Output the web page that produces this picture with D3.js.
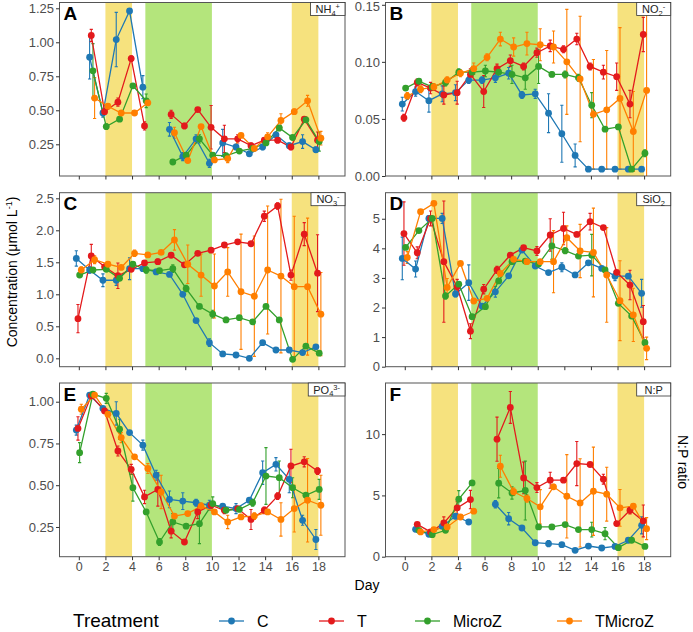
<!DOCTYPE html>
<html><head><meta charset="utf-8">
<script src="https://cdn.jsdelivr.net/npm/d3@7"></script>
<style>body{margin:0;background:#fff}svg{display:block;font-family:"Liberation Sans",Arial,sans-serif}</style>
</head><body><svg id="chart" width="693" height="632"></svg>
<script>
// ---------------- DATA ----------------
const days = [0,1,2,3,4,5,6,7,8,9,10,11,12,13,14,15,16,17,18];
const xTicks = [0,2,4,6,8,10,12,14,16,18];
const treatments = ["C","T","MicroZ","TMicroZ"];
const colors = ["#1F78B4","#E31A1C","#33A02C","#FF7F00"];
const yellowBands = [[2,4],[16,18]];
const greenBands = [[5,10]];

// A: NH4+
const nh4_C  = [null,0.89,0.48,1.02,1.23,0.67,null,0.36,0.16,0.29,0.11,0.26,0.23,0.18,0.23,0.32,0.24,0.27,0.21];
const nh4_C_se = [null,0.16,0.03,0.2,0.01,0.085,null,0.05,0.03,0.03,0.03,0.1,0.02,0.02,0.02,0.02,0.02,0.05,0.02];
const nh4_T  = [null,1.05,0.49,0.56,0.88,0.385,null,0.47,0.385,0.505,0.375,0.29,0.29,0.24,0.28,0.28,0.23,0.435,0.28];
const nh4_T_se = [null,0.045,0.02,0.03,0.02,0.03,null,0.03,0.02,0.01,0.16,0.1,0.03,0.02,0.02,0.02,0.02,0.01,0.06];
const nh4_M  = [null,0.79,0.38,0.435,0.68,0.57,null,0.12,0.17,0.29,0.17,0.165,0.20,0.22,0.26,0.37,0.30,0.43,0.27];
const nh4_M_se = [null,0.2,0.02,0.01,0.01,0.05,null,0.01,0.02,0.03,0.02,0.02,0.01,0.01,0.01,0.02,0.01,0.02,0.07];
const nh4_TM = [null,0.59,0.53,0.48,0.48,0.555,null,0.335,0.13,0.38,0.135,0.145,0.315,0.22,0.305,0.425,0.49,0.57,0.295];
const nh4_TM_se = [null,0.15,0.02,0.01,0.01,0.02,null,0.04,0.01,0.01,0.01,0.03,0.01,0.01,0.03,0.05,0.02,0.04,0.05];

// B: NO2-
const no2_C  = [0.063,0.074,0.066,0.072,0.073,0.084,0.084,0.086,0.090,0.071,0.072,0.055,0.037,0.018,0.006,0.006,0.006,0.006,0.006];
const no2_C_se = [0.006,0.004,0.01,0.007,0.007,0.003,0.003,0.004,0.005,0.003,0.004,0.017,0.025,0.01,0.001,0.001,0.001,0.001,0.001];
const no2_T  = [0.051,0.082,0.077,0.071,0.073,0.089,0.074,0.094,0.101,0.096,0.108,0.114,0.111,0.120,0.096,0.091,0.087,0.063,0.124];
const no2_T_se = [0.003,0.003,0.005,0.008,0.01,0.005,0.014,0.004,0.005,0.003,0.004,0.005,0.003,0.005,0.003,0.006,0.012,0.012,0.015];
const no2_M  = [0.077,0.083,0.078,0.082,0.091,0.091,0.092,0.091,0.089,0.086,0.096,0.089,0.089,0.086,0.062,0.041,0.043,0.006,0.020];
const no2_M_se = [0.002,0.002,0.003,0.003,0.003,0.004,0.005,0.004,0.008,0.01,0.015,0.002,0.003,0.003,0.011,0.002,0.002,0.002,0.003];
const no2_TM = [0.070,0.076,0.078,0.084,0.090,0.094,0.104,0.120,0.113,0.116,0.115,0.113,0.100,0.085,0.054,0.058,0.068,0.039,0.075];
const no2_TM_se = [0.003,0.003,0.003,0.003,0.003,0.005,0.003,0.006,0.008,0.01,0.014,0.014,0.046,0.055,0.048,0.052,0.062,0.035,0.08];

// C: NO3-
const no3_C  = [1.56,1.38,1.22,1.22,1.40,1.40,1.35,1.31,1.00,0.59,0.245,0.068,0.052,0.0,0.245,0.13,0.13,0.09,0.18];
const no3_C_se = [0.12,0.05,0.1,0.08,0.17,0.03,0.04,0.03,0.02,0.02,0.06,0.02,0.02,0.02,0.02,0.02,0.02,0.03,0.02];
const no3_T  = [0.62,1.60,1.43,1.29,1.39,1.49,1.51,1.61,1.46,1.64,1.69,1.77,1.82,1.79,2.22,2.38,1.30,1.94,1.33];
const no3_T_se = [0.22,0.18,0.02,0.2,0.02,0.02,0.04,0.02,0.02,0.02,0.02,0.02,0.02,0.02,0.08,0.05,0.08,0.18,0.6];
const no3_M  = [1.30,1.38,1.39,1.25,1.47,1.38,1.37,1.40,1.09,0.81,0.69,0.60,0.635,0.57,0.81,0.60,-0.016,0.19,0.08];
const no3_M_se = [0.02,0.02,0.02,0.02,0.02,0.05,0.02,0.06,0.05,0.02,0.06,0.04,0.02,0.03,0.02,0.02,0.02,0.03,0.02];
const no3_TM = [1.38,1.54,1.47,1.42,1.64,1.615,1.655,1.85,1.47,1.30,1.13,1.35,1.04,0.97,1.38,1.285,1.12,1.12,0.69];
const no3_TM_se = [0.05,0.06,0.04,0.03,0.05,0.02,0.02,0.16,0.3,0.33,0.5,0.38,0.9,0.94,1.0,1.2,1.1,1.07,0.65];

// D: SiO2
const si_C  = [3.66,3.30,5.01,5.01,2.46,2.84,2.05,2.53,3.07,3.94,3.40,3.18,3.36,3.10,3.51,3.32,3.06,3.06,2.48];
const si_C_se = [0.72,0.27,0.1,0.17,0.1,0.6,0.05,0.18,0.05,0.05,0.05,0.05,0.15,0.05,0.05,0.05,0.15,0.05,0.47];
const si_T  = [4.50,3.85,5.01,3.55,2.70,1.20,2.62,3.27,3.77,4.02,3.91,4.45,4.67,4.47,4.90,4.70,3.19,2.76,1.52];
const si_T_se = [1.07,0.2,0.25,2.05,0.25,0.25,0.16,0.12,0.05,0.05,0.15,0.55,0.55,0.05,0.28,0.05,0.05,0.5,0.55];
const si_M  = [4.03,4.60,5.01,2.39,2.79,1.69,2.03,2.90,3.55,3.57,3.47,4.08,3.92,3.74,3.77,3.27,2.14,1.71,0.81];
const si_M_se = [0.05,0.05,0.05,0.1,0.05,0.05,0.05,0.05,0.05,0.05,0.05,0.45,0.1,0.05,0.7,0.05,0.05,0.05,0.1];
const si_TM = [3.69,5.24,5.52,2.68,3.49,2.22,2.31,3.15,3.63,3.55,3.55,3.55,4.36,3.91,3.86,3.10,2.23,1.75,0.62];
const si_TM_se = [0.2,0.05,0.05,0.3,0.05,0.05,0.05,0.05,0.05,0.05,0.05,1.05,0.4,0.9,1.5,1.6,1.35,0.9,0.38];

// E: PO4 3-
const po4_C  = [0.83,1.04,0.96,0.93,0.815,0.74,0.56,0.415,0.405,0.395,0.38,0.375,0.36,0.41,0.575,0.625,0.535,0.29,0.175];
const po4_C_se = [0.03,0.01,0.01,0.07,0.01,0.03,0.03,0.05,0.05,0.02,0.03,0.01,0.03,0.01,0.07,0.04,0.08,0.03,0.06];
const po4_T  = [0.84,1.035,0.945,0.705,0.595,0.43,0.475,0.225,0.16,0.34,0.38,0.35,0.36,0.295,0.35,0.435,0.615,0.64,0.585];
const po4_T_se = [0.07,0.01,0.01,0.03,0.03,0.04,0.1,0.04,0.01,0.04,0.02,0.02,0.01,0.06,0.02,0.02,0.1,0.03,0.02];
const po4_M  = [0.695,1.045,1.02,0.835,0.485,0.34,0.16,0.28,0.255,0.27,0.39,0.35,0.355,0.395,0.555,0.545,0.485,0.44,0.475];
const po4_M_se = [0.06,0.01,0.03,0.06,0.08,0.01,0.02,0.05,0.01,0.12,0.04,0.01,0.01,0.02,0.17,0.1,0.06,0.01,0.06];
const po4_TM = [0.955,1.04,0.925,0.785,0.67,0.6,0.46,0.315,0.33,0.375,0.34,0.28,0.31,0.315,0.34,0.295,0.36,0.41,0.38];
const po4_TM_se = [0.03,0.01,0.01,0.03,0.01,0.03,0.1,0.01,0.01,0.02,0.01,0.04,0.01,0.02,0.01,0.1,0.14,0.25,0.18];

// F: N:P
const np_C  = [null,2.23,1.83,2.48,3.30,2.83,null,4.28,3.10,2.34,1.14,1.06,0.98,0.52,0.87,0.71,0.84,1.34,2.56];
const np_C_se = [null,0.1,0.1,0.1,0.2,0.1,null,0.3,0.5,0.1,0.1,0.25,0.1,0.1,0.1,0.1,0.1,0.1,0.7];
const np_T  = [null,2.64,2.02,2.75,3.98,4.66,null,9.59,12.18,6.43,5.64,6.24,6.24,7.60,7.52,6.32,2.70,3.79,2.92];
const np_T_se = [null,0.1,0.1,0.5,0.5,0.75,null,1.8,1.3,1.3,0.4,0.65,0.1,1.8,0.1,0.4,0.1,0.3,1.3];
const np_M  = [null,2.15,1.80,2.15,4.69,6.02,null,6.0,5.2,5.4,2.43,2.43,2.62,2.21,2.21,1.88,0.74,1.34,0.84];
const np_M_se = [null,0.1,0.1,0.1,0.7,0.1,null,1.2,0.5,2.4,0.1,0.1,0.1,0.1,0.6,0.5,0.1,0.1,0.1];
const np_TM = [null,2.02,2.21,2.43,3.24,3.71,null,7.38,5.3,4.75,4.07,5.7,4.93,4.39,5.34,5.10,3.98,4.12,2.29];
const np_TM_se = [null,0.1,0.1,0.1,0.1,0.1,null,0.9,0.3,0.3,1.4,0.2,3.4,3.6,3.6,2.2,1.5,0.2,0.9];

const ticksA = [0.25,0.50,0.75,1.00,1.25];
const ticksB = [0.00,0.05,0.10,0.15];
const ticksC = [0.0,0.5,1.0,1.5,2.0,2.5];
const ticksD = [0,1,2,3,4,5];
const ticksE = [0.25,0.50,0.75,1.00];
const ticksF = [0,5,10];

// ---------------- LAYOUT ----------------
const svg = d3.select("#chart");
svg.append("rect").attr("width",693).attr("height",632).attr("fill","#fff");

const cols = [[59.5,345],[385.5,670.7]];
const rows = [[2.5,176],[192.7,366.7],[383,556.7]];
const xDomain = [-1.45, 20.0];
const dodge = [-0.1875,-0.0625,0.0625,0.1875];

const panels = [
  {letter:"A", chem:[["NH",0],["4",1],["+",-1]], col:0,row:0, dom:[0.0169,1.2926], ticks:ticksA, fmt:d3.format(".2f"),
   series:[[nh4_C,nh4_C_se],[nh4_T,nh4_T_se],[nh4_M,nh4_M_se],[nh4_TM,nh4_TM_se]]},
  {letter:"B", chem:[["NO",0],["2",1],["-",-1]], col:1,row:0, dom:[0,0.152], ticks:ticksB, fmt:d3.format(".2f"),
   series:[[no2_C,no2_C_se],[no2_T,no2_T_se],[no2_M,no2_M_se],[no2_TM,no2_TM_se]]},
  {letter:"C", chem:[["NO",0],["3",1],["-",-1]], col:0,row:1, dom:[-0.131,2.5875], ticks:ticksC, fmt:d3.format(".1f"),
   series:[[no3_C,no3_C_se],[no3_T,no3_T_se],[no3_M,no3_M_se],[no3_TM,no3_TM_se]]},
  {letter:"D", chem:[["SiO",0],["2",1]], col:1,row:1, dom:[0,5.88], ticks:ticksD, fmt:d3.format("d"),
   series:[[si_C,si_C_se],[si_T,si_T_se],[si_M,si_M_se],[si_TM,si_TM_se]]},
  {letter:"E", chem:[["PO",0],["4",1],["3-",-1]], col:0,row:2, dom:[0.072,1.112], ticks:ticksE, fmt:d3.format(".2f"),
   series:[[po4_C,po4_C_se],[po4_T,po4_T_se],[po4_M,po4_M_se],[po4_TM,po4_TM_se]]},
  {letter:"F", chem:[["N:P",0]], col:1,row:2, dom:[0,14.17], ticks:ticksF, fmt:d3.format("d"),
   series:[[np_C,np_C_se],[np_T,np_T_se],[np_M,np_M_se],[np_TM,np_TM_se]]}
];

const tickCol = "#333", labCol = "#4D4D4D";

panels.forEach((p,pi) => {
  const [x0,x1] = cols[p.col], [y0,y1] = rows[p.row];
  const x = d3.scaleLinear().domain(xDomain).range([x0,x1]);
  const y = d3.scaleLinear().domain(p.dom).range([y1,y0]);
  const g = svg.append("g");
  const cid = "clip"+pi;
  svg.append("clipPath").attr("id",cid).append("rect").attr("x",x0).attr("y",y0).attr("width",x1-x0).attr("height",y1-y0);
  const pg = g.append("g").attr("clip-path",`url(#${cid})`);

  yellowBands.forEach(b => pg.append("rect").attr("x",x(b[0])).attr("width",x(b[1])-x(b[0]))
     .attr("y",y0).attr("height",y1-y0).attr("fill","#F6E27E"));
  greenBands.forEach(b => pg.append("rect").attr("x",x(b[0])).attr("width",x(b[1])-x(b[0]))
     .attr("y",y0).attr("height",y1-y0).attr("fill","#B4E57C"));

  const seriesData = p.series.map((s,si) => days.map((d,i) => ({d:d+dodge[si], v:s[0][i], e:s[1][i]})));
  // error bars
  seriesData.forEach((sd,si) => {
    const cw = 0.12;
    sd.filter(o => o.v!=null).forEach(o => {
      const path = d3.path();
      path.moveTo(x(o.d), y(o.v+o.e)); path.lineTo(x(o.d), y(o.v-o.e));
      path.moveTo(x(o.d-cw), y(o.v+o.e)); path.lineTo(x(o.d+cw), y(o.v+o.e));
      path.moveTo(x(o.d-cw), y(o.v-o.e)); path.lineTo(x(o.d+cw), y(o.v-o.e));
      pg.append("path").attr("d",path.toString()).attr("stroke",colors[si]).attr("stroke-width",1.1).attr("fill","none");
    });
  });
  // lines
  seriesData.forEach((sd,si) => {
    const line = d3.line().defined(o => o.v!=null).x(o => x(o.d)).y(o => y(o.v));
    pg.append("path").attr("d",line(sd)).attr("stroke",colors[si]).attr("stroke-width",1.3).attr("fill","none");
  });
  // points
  seriesData.forEach((sd,si) => {
    pg.selectAll(null).data(sd.filter(o => o.v!=null)).enter().append("circle")
      .attr("cx",o => x(o.d)).attr("cy",o => y(o.v)).attr("r",3.4).attr("fill",colors[si]);
  });

  // border
  g.append("rect").attr("x",x0).attr("y",y0).attr("width",x1-x0).attr("height",y1-y0)
    .attr("fill","none").attr("stroke","#555").attr("stroke-width",1);

  // y axis
  const ya = d3.axisLeft(y).tickValues(p.ticks).tickFormat(p.fmt).tickSize(3.5).tickPadding(2);
  const yg = g.append("g").attr("transform",`translate(${x0},0)`).call(ya);
  yg.select(".domain").remove();
  yg.selectAll("line").attr("stroke",tickCol);
  yg.selectAll("text").attr("fill",labCol).style("font-size","13px").style("font-family","Liberation Sans, Arial, sans-serif");
  // keep the top-most label inside the picture
  yg.selectAll(".tick").each(function(v){ if (y(v) < 6) d3.select(this).select("text").attr("y", 6 - y(v)); });
  // x axis
  const xa = d3.axisBottom(x).tickValues(xTicks).tickSize(3.5).tickPadding(2).tickFormat(p.row===2 ? d3.format("d") : () => "");
  const xg = g.append("g").attr("transform",`translate(0,${y1})`).call(xa);
  xg.select(".domain").remove();
  xg.selectAll("line").attr("stroke",tickCol);
  xg.selectAll("text").attr("fill",labCol).style("font-size","12.5px").style("font-family","Liberation Sans, Arial, sans-serif");

  // panel letter
  g.append("text").attr("x",x0+4).attr("y",y0+17.5).text(p.letter)
    .attr("font-weight","bold").attr("font-size",19).attr("fill","#000");

  // chem label box
  const lt = g.append("text").attr("y",y0+10.5).attr("font-size",11).attr("fill","#222");
  p.chem.forEach(([t,k]) => {
    const ts = lt.append("tspan").text(t);
    if (k===1) ts.attr("font-size",7.5).attr("dy",2.5);
    if (k===-1) ts.attr("font-size",7.5).attr("dy",-6.5);
  });
  const bw = lt.node().getComputedTextLength();
  const boxW = Math.max(bw + 10, 34);
  const bx = x1 - boxW;
  lt.attr("x", bx + (boxW-bw)/2);
  g.insert("rect", () => lt.node()).attr("x",bx).attr("y",y0).attr("width",boxW).attr("height",13)
    .attr("fill","#fff").attr("stroke","#333").attr("stroke-width",0.8);
});

// axis titles
svg.append("text").attr("transform","translate(17,272) rotate(-90)").attr("text-anchor","middle")
  .attr("font-size",14).attr("fill","#000")
  .html('Concentration (μmol L<tspan font-size="9" dy="-5">-1</tspan><tspan dy="5">)</tspan>');
svg.append("text").attr("x",367).attr("y",590).attr("text-anchor","middle").attr("font-size",14).attr("fill","#000").text("Day");
svg.append("text").attr("transform","translate(678,462) rotate(90)").attr("text-anchor","middle")
  .attr("font-size",14).attr("fill","#000").text("N:P ratio");

// legend
const legY = 621;
svg.append("text").attr("x",73).attr("y",legY+6).attr("font-size",19).attr("fill","#000").text("Treatment");
const legX = [219,319,415,557];
treatments.forEach((t,i) => {
  const lx = legX[i];
  svg.append("line").attr("x1",lx).attr("x2",lx+25).attr("y1",legY).attr("y2",legY).attr("stroke",colors[i]).attr("stroke-width",1.3);
  svg.append("circle").attr("cx",lx+12.5).attr("cy",legY).attr("r",3.4).attr("fill",colors[i]);
  svg.append("text").attr("x",lx+38).attr("y",legY+6).attr("font-size",16).attr("fill","#000").text(t);
});
</script></body></html>
